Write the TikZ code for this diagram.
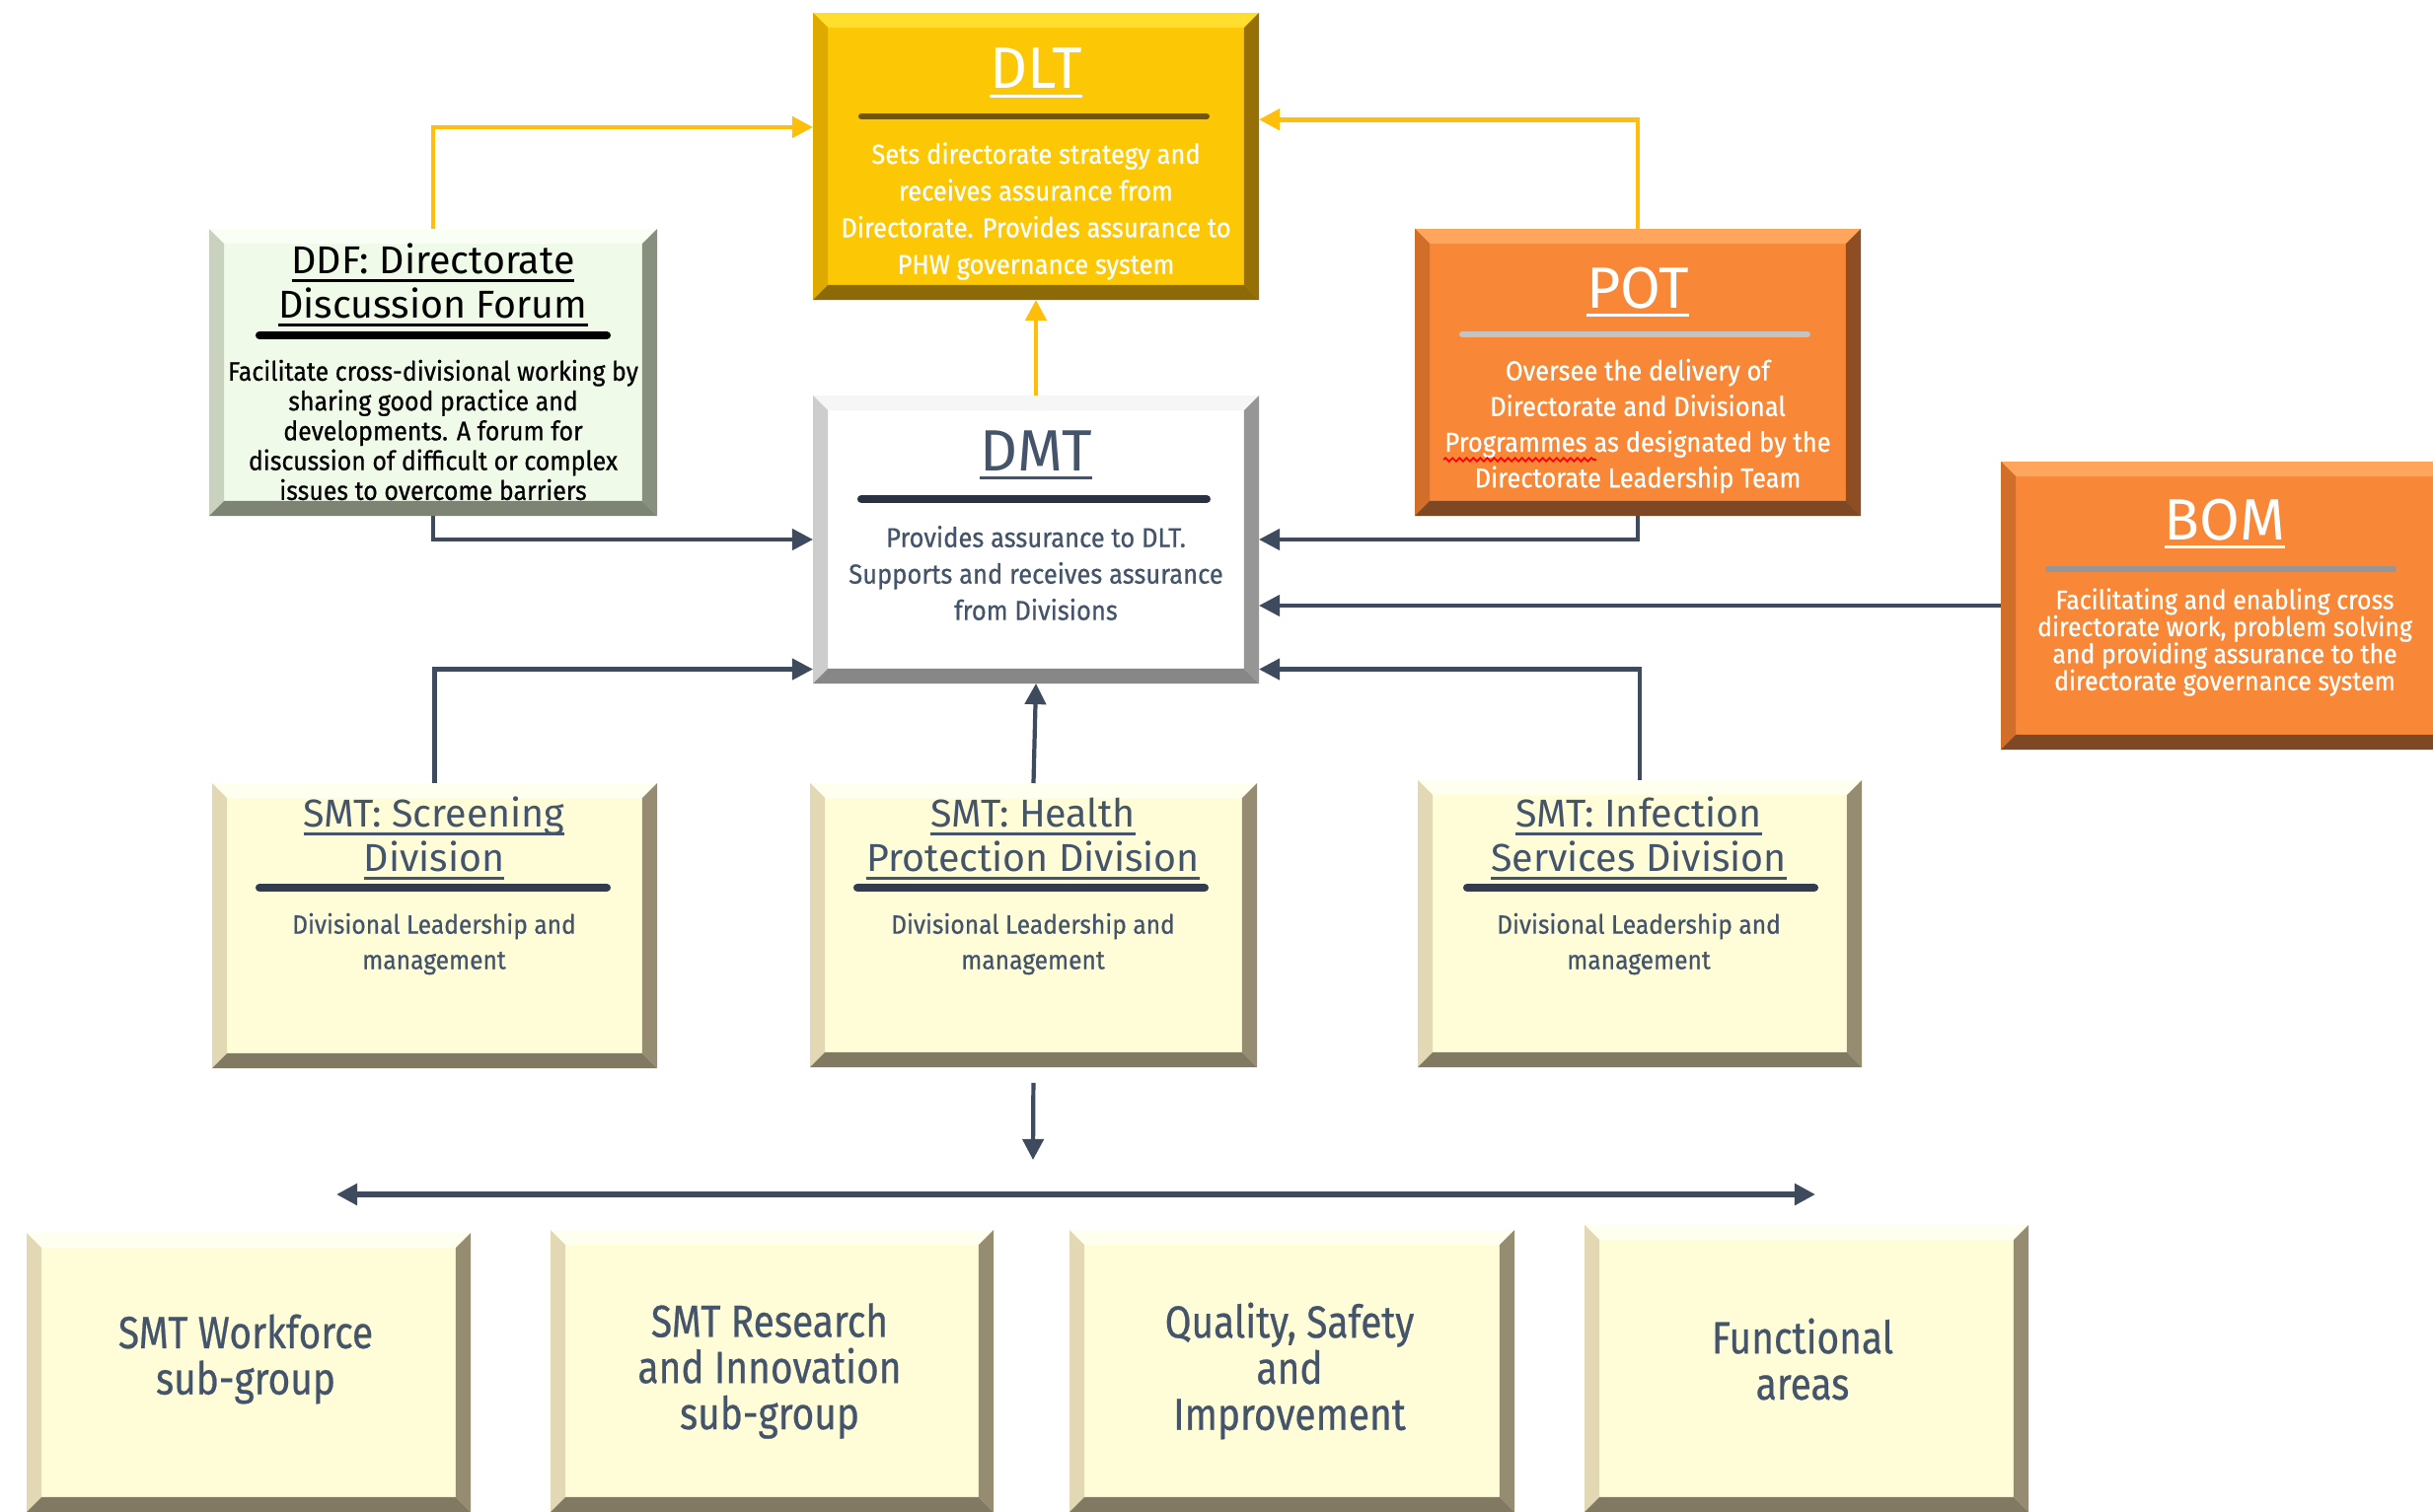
\documentclass[tikz,border=0pt]{standalone}
\usepackage{fontspec}
\setmainfont{Fira Sans}
\newfontfamily\condfont[FakeStretch=0.92,FakeBold=0.6]{Fira Sans}
\newfontfamily\botfont[FakeStretch=0.85,FakeBold=0.5]{Fira Sans}
\usetikzlibrary{arrows.meta,fit,calc,decorations.pathmorphing}

\definecolor{slate}{RGB}{68,84,106}
\definecolor{arrdark}{RGB}{62,74,94}
\definecolor{goldline}{RGB}{255,190,10}
% DLT
\definecolor{dltfill}{RGB}{252,200,5}
\definecolor{dlttop}{RGB}{255,222,45}
\definecolor{dltleft}{RGB}{222,170,0}
\definecolor{dltright}{RGB}{150,112,5}
\definecolor{dltbot}{RGB}{140,106,8}
% DDF
\definecolor{ddffill}{RGB}{240,250,232}
\definecolor{ddftop}{RGB}{250,255,246}
\definecolor{ddfleft}{RGB}{200,210,190}
\definecolor{ddfright}{RGB}{135,143,127}
\definecolor{ddfbot}{RGB}{125,132,115}
% orange
\definecolor{orfill}{RGB}{248,135,56}
\definecolor{ortop}{RGB}{255,166,92}
\definecolor{orleft}{RGB}{208,110,42}
\definecolor{orright}{RGB}{140,78,34}
\definecolor{orbot}{RGB}{125,72,35}
% white
\definecolor{whtop}{RGB}{246,246,246}
\definecolor{whleft}{RGB}{205,205,205}
\definecolor{whright}{RGB}{150,150,150}
\definecolor{whbot}{RGB}{135,135,135}
% cream
\definecolor{crfill}{RGB}{255,253,216}
\definecolor{crtop}{RGB}{255,255,240}
\definecolor{crleft}{RGB}{226,216,180}
\definecolor{crright}{RGB}{150,140,114}
\definecolor{crbot}{RGB}{130,121,99}
% separators
\definecolor{sepdlt}{RGB}{112,86,10}
\definecolor{seppot}{RGB}{196,196,196}
\definecolor{sepbom}{RGB}{150,150,150}
\definecolor{sepdmt}{RGB}{42,50,66}
\definecolor{sepsmt}{RGB}{50,60,78}

\newcommand\tul[1]{\setbox0\hbox{#1}\rlap{\rule[-2.6pt]{\wd0}{0.9pt}}\box0}

\tikzset{
  box/.style={inner sep=0pt, outer sep=0pt, rectangle},
  bevel/.style n args={4}{path picture={
    \fill[#1] (path picture bounding box.north west) -- (path picture bounding box.north east)
       -- ([shift={(-4.3pt,-4.3pt)}]path picture bounding box.north east)
       -- ([shift={(4.3pt,-4.3pt)}]path picture bounding box.north west) -- cycle;
    \fill[#2] (path picture bounding box.north west) -- (path picture bounding box.south west)
       -- ([shift={(4.3pt,4.3pt)}]path picture bounding box.south west)
       -- ([shift={(4.3pt,-4.3pt)}]path picture bounding box.north west) -- cycle;
    \fill[#3] (path picture bounding box.north east) -- (path picture bounding box.south east)
       -- ([shift={(-4.3pt,4.3pt)}]path picture bounding box.south east)
       -- ([shift={(-4.3pt,-4.3pt)}]path picture bounding box.north east) -- cycle;
    \fill[#4] (path picture bounding box.south west) -- (path picture bounding box.south east)
       -- ([shift={(-4.3pt,4.3pt)}]path picture bounding box.south east)
       -- ([shift={(4.3pt,4.3pt)}]path picture bounding box.south west) -- cycle;
  }},
  gbox/.style={box, fill=dltfill, bevel={dlttop}{dltleft}{dltright}{dltbot}},
  dbox/.style={box, fill=ddffill, bevel={ddftop}{ddfleft}{ddfright}{ddfbot}},
  obox/.style={box, fill=orfill, bevel={ortop}{orleft}{orright}{orbot}},
  wbox/.style={box, fill=white, bevel={whtop}{whleft}{whright}{whbot}},
  cbox/.style={box, fill=crfill, bevel={crtop}{crleft}{crright}{crbot}},
  bigt/.style={anchor=base, inner sep=0pt, font=\fontsize{16.8}{19}\selectfont},
  subt/.style={anchor=base, inner sep=0pt, font=\fontsize{11.2}{13}\selectfont},
  bodytext/.style={align=center, inner sep=0pt},
  sep/.style={line width=#1, line cap=round},
  goldarr/.style={draw=goldline, line width=1.3pt, -{Triangle[length=6pt,width=6pt]}},
  darkarr/.style={draw=arrdark, line width=1.2pt, -{Triangle[length=6pt,width=6pt]}},
}

\begin{document}
\begin{tikzpicture}[x=0.01cm, y=-0.01cm]
\useasboundingbox (0,0) rectangle (2466,1533);
\fill[white] (0,0) rectangle (2466,1533);

% ---------- boxes ----------
\node[gbox, fit={(824,13) (1276,304)}] (dlt) {};
\node[dbox, fit={(212,232) (666,523)}] (ddf) {};
\node[obox, fit={(1434,232) (1886,523)}] (pot) {};
\node[obox, fit={(2028,468) (2482,760)}] (bom) {};
\node[wbox, fit={(824,401) (1276,693)}] (dmt) {};
\node[cbox, fit={(215,794) (666,1083)}] (scr) {};
\node[cbox, fit={(821,794) (1274,1082)}] (hp) {};
\node[cbox, fit={(1437,791) (1887,1082)}] (inf) {};
\node[cbox, fit={(27,1250) (477,1533)}] (wf) {};
\node[cbox, fit={(558,1247) (1007,1533)}] (ri) {};
\node[cbox, fit={(1084,1247) (1535,1533)}] (qsi) {};
\node[cbox, fit={(1606,1242) (2056,1533)}] (fa) {};

% ---------- separators ----------
\draw[sep=1.7pt, draw=sepdlt] (873,118) -- (1223,118);
\draw[sep=2.3pt, draw=black] (263,340) -- (615,340);
\draw[sep=1.7pt, draw=seppot] (1482,339) -- (1832,339);
\draw[sep=1.7pt, draw=sepbom] (2076,577) -- (2426,577);
\draw[sep=2.3pt, draw=sepdmt] (873,506) -- (1223,506);
\draw[sep=2.3pt, draw=sepsmt] (263,900) -- (615,900);
\draw[sep=2.3pt, draw=sepsmt] (869,900) -- (1221,900);
\draw[sep=2.3pt, draw=sepsmt] (1487,900) -- (1839,900);

% ---------- texts ----------
\node[bigt, white] (dltT) at (1050,90) {\tul{DLT}};
\node[bodytext, white, font=\condfont\fontsize{7.9}{10.6}\selectfont] (dltB) at (1050,214)
  {Sets directorate strategy and\\receives assurance from\\Directorate. Provides assurance to\\PHW governance system};

\node[subt, black] (ddfT1) at (439,277) {\tul{DDF: Directorate}};
\node[subt, black] (ddfT2) at (439,322) {\tul{Discussion Forum}};
\node[bodytext, black, font=\condfont\fontsize{7.7}{8.6}\selectfont] (ddfB) at (439,436)
  {Facilitate cross-divisional working by\\sharing good practice and\\developments. A forum for\\discussion of difficult or complex\\issues to overcome barriers};

\node[bigt, white] (potT) at (1660,312) {\tul{POT}};
\node[bodytext, white, font=\condfont\fontsize{7.9}{10.3}\selectfont] (potB) at (1660,432)
  {Oversee the delivery of\\Directorate and Divisional\\Programmes as designated by the\\Directorate Leadership Team};
\draw[red, line width=0.5pt, decorate, decoration={snake, amplitude=0.5pt, segment length=2pt}] (1463,466) -- (1618,466);

\node[bigt, white] (bomT) at (2255,547) {\tul{BOM}};
\node[bodytext, white, font=\condfont\fontsize{7.7}{7.8}\selectfont] (bomB) at (2255,651)
  {Facilitating and enabling cross\\directorate work, problem solving\\and providing assurance to the\\directorate governance system};

\node[bigt, slate] (dmtT) at (1050,477) {\tul{DMT}};
\node[bodytext, slate, font=\condfont\fontsize{7.9}{10.5}\selectfont] (dmtB) at (1050,581)
  {Provides assurance to DLT.\\Supports and receives assurance\\from Divisions};

\node[subt, slate] (scrT1) at (440,838) {\tul{SMT: Screening}};
\node[subt, slate] (scrT2) at (440,883) {\tul{Division}};
\node[bodytext, slate, font=\condfont\fontsize{7.6}{10.2}\selectfont] (scrB) at (440,957)
  {Divisional Leadership and\\management};

\node[subt, slate] (hpT1) at (1047,838) {\tul{SMT: Health}};
\node[subt, slate] (hpT2) at (1047,883) {\tul{Protection Division}};
\node[bodytext, slate, font=\condfont\fontsize{7.6}{10.2}\selectfont] (hpB) at (1047,957)
  {Divisional Leadership and\\management};

\node[subt, slate] (infT1) at (1661,838) {\tul{SMT: Infection}};
\node[subt, slate] (infT2) at (1661,883) {\tul{Services Division}};
\node[bodytext, slate, font=\condfont\fontsize{7.6}{10.2}\selectfont] (infB) at (1661,957)
  {Divisional Leadership and\\management};

\tikzset{bottomtext/.style={bodytext, slate, font=\botfont\fontsize{13}{13.3}\selectfont}}
\node[bottomtext] (wfT) at (249,1378) {SMT Workforce\\sub-group};
\node[bottomtext] (riT) at (780,1390) {SMT Research\\and Innovation\\sub-group};
\node[bottomtext] (qsiT) at (1307,1390) {Quality, Safety\\and\\Improvement};
\node[bottomtext] (faT) at (1827,1378) {Functional\\areas};

% ---------- connectors ----------
\draw[goldarr] (ddf.north) |- ([yshift=8.4pt]dlt.west);
\draw[goldarr] (pot.north) |- ([yshift=10.6pt]dlt.east);
\draw[goldarr] (dmt.north) -- (dlt.south);

\draw[darkarr] (ddf.south) |- (dmt.west);
\draw[darkarr] (pot.south) |- (dmt.east);
\draw[darkarr] (bom.west) -- (bom.west -| dmt.east);
\draw[darkarr] (scr.north) |- ([yshift=-37.4pt]dmt.west);
\draw[darkarr] (inf.north) |- ([yshift=-37.4pt]dmt.east);
\draw[darkarr] (hp.north) -- (dmt.south);

\coordinate (hub) at (1047,1176);
\draw[darkarr, shorten <=4.5pt] (hp.south) -- (hub);
\coordinate (leftend) at (341,1211);
\coordinate (rightend) at (1840,1211);
\draw[draw=arrdark, line width=1.5pt, {Triangle[length=6pt,width=6pt]}-{Triangle[length=6pt,width=6pt]}] (leftend) -- (rightend);
\end{tikzpicture}
\end{document}
